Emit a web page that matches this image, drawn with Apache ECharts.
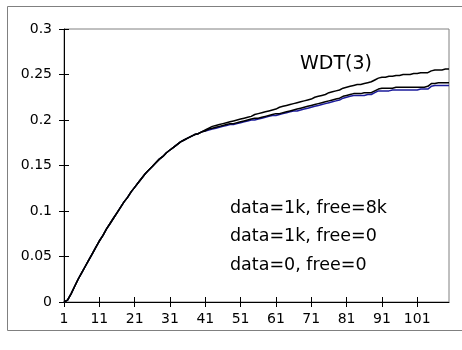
<!DOCTYPE html>
<html>
<head>
<meta charset="utf-8">
<script src="https://cdn.jsdelivr.net/npm/echarts@6/dist/echarts.min.js"></script>
<style>
  html, body { margin: 0; padding: 0; background: #fff; }
  #chart { width: 462px; height: 350px; }
</style>
</head>
<body>
<div id="chart"></div>
<script>
// Step index along the x axis (1 .. 110)
const steps = [];
for (let i = 1; i <= 110; i++) steps.push(String(i));

const yTickLabels = ['0', '0.05', '0.1', '0.15', '0.2', '0.25', '0.3'];

// data=1k, free=8k
const data1kFree8k = [
  0, 0.002, 0.009, 0.017, 0.025, 0.032, 0.039, 0.046, 0.053, 0.060,
  0.067, 0.073, 0.080, 0.086, 0.092, 0.098, 0.104, 0.110, 0.115, 0.121,
  0.126, 0.131, 0.136, 0.141, 0.145, 0.149, 0.153, 0.157, 0.160, 0.164,
  0.167, 0.170, 0.173, 0.176, 0.178, 0.180, 0.182, 0.184, 0.185, 0.187,
  0.189, 0.191, 0.193, 0.194, 0.195, 0.196, 0.197, 0.198, 0.199, 0.200,
  0.201, 0.202, 0.203, 0.204, 0.206, 0.207, 0.208, 0.209, 0.210, 0.211,
  0.212, 0.214, 0.215, 0.216, 0.217, 0.218, 0.219, 0.220, 0.221, 0.222,
  0.223, 0.225, 0.226, 0.227, 0.228, 0.230, 0.231, 0.232, 0.233, 0.235,
  0.236, 0.237, 0.238, 0.239, 0.239, 0.240, 0.241, 0.242, 0.244, 0.246,
  0.247, 0.247, 0.248, 0.248, 0.249, 0.249, 0.250, 0.250, 0.250, 0.251,
  0.251, 0.252, 0.252, 0.252, 0.254, 0.255, 0.255, 0.255, 0.256, 0.256
];

// data=1k, free=0
const data1kFree0 = [
  0, 0.002, 0.009, 0.017, 0.025, 0.032, 0.039, 0.046, 0.053, 0.060,
  0.067, 0.073, 0.080, 0.086, 0.092, 0.098, 0.104, 0.110, 0.115, 0.121,
  0.126, 0.131, 0.136, 0.141, 0.145, 0.149, 0.153, 0.157, 0.160, 0.164,
  0.167, 0.170, 0.173, 0.176, 0.178, 0.180, 0.182, 0.184, 0.185, 0.187,
  0.188, 0.190, 0.191, 0.192, 0.193, 0.194, 0.195, 0.196, 0.196, 0.197,
  0.198, 0.199, 0.200, 0.201, 0.202, 0.202, 0.203, 0.204, 0.205, 0.206,
  0.207, 0.207, 0.208, 0.209, 0.210, 0.211, 0.212, 0.213, 0.214, 0.215,
  0.216, 0.217, 0.218, 0.219, 0.220, 0.221, 0.222, 0.223, 0.224, 0.226,
  0.227, 0.228, 0.229, 0.229, 0.229, 0.230, 0.230, 0.230, 0.232, 0.234,
  0.235, 0.235, 0.235, 0.235, 0.236, 0.236, 0.236, 0.236, 0.236, 0.236,
  0.236, 0.236, 0.236, 0.237, 0.240, 0.240, 0.241, 0.241, 0.241, 0.241
];

// data=0, free=0
const data0Free0 = [
  0, 0.002, 0.009, 0.017, 0.025, 0.032, 0.039, 0.046, 0.053, 0.060,
  0.067, 0.073, 0.080, 0.086, 0.092, 0.098, 0.104, 0.110, 0.115, 0.121,
  0.126, 0.131, 0.136, 0.141, 0.145, 0.149, 0.153, 0.157, 0.160, 0.164,
  0.167, 0.170, 0.173, 0.176, 0.178, 0.180, 0.182, 0.184, 0.185, 0.187,
  0.188, 0.189, 0.190, 0.191, 0.192, 0.193, 0.194, 0.195, 0.195, 0.196,
  0.197, 0.198, 0.199, 0.200, 0.200, 0.201, 0.202, 0.203, 0.204, 0.205,
  0.205, 0.206, 0.207, 0.208, 0.209, 0.210, 0.210, 0.211, 0.212, 0.213,
  0.214, 0.215, 0.216, 0.217, 0.218, 0.219, 0.220, 0.221, 0.222, 0.224,
  0.225, 0.226, 0.227, 0.227, 0.227, 0.227, 0.228, 0.228, 0.230, 0.232,
  0.232, 0.232, 0.232, 0.233, 0.233, 0.233, 0.233, 0.233, 0.233, 0.233,
  0.233, 0.234, 0.234, 0.234, 0.237, 0.238, 0.238, 0.238, 0.238, 0.238
];

const FONT = 'DejaVu Sans';
const AXIS_COLOR = '#000';

function lineSeries(name, values, color) {
  return {
    name: name,
    type: 'line',
    data: values,
    xAxisIndex: 0,
    yAxisIndex: 0,
    showSymbol: false,
    smooth: false,
    lineStyle: { color: color, width: 1.5 },
    itemStyle: { color: color },
    animation: false
  };
}

const chart = echarts.init(document.getElementById('chart'), null, { renderer: 'canvas' });

chart.setOption({
  animation: false,
  backgroundColor: '#fff',
  grid: {
    left: 64, right: 13, top: 29, bottom: 48,
    show: true, borderColor: '#808080', borderWidth: 1, backgroundColor: '#fff'
  },
  xAxis: [
    {
      type: 'category',
      data: steps,
      boundaryGap: false,
      axisLine: { show: true, onZero: false, lineStyle: { color: AXIS_COLOR, width: 1 } },
      axisTick: { show: true, interval: 9, length: 5, lineStyle: { color: AXIS_COLOR } },
      axisLabel: { interval: 9, margin: 10, color: '#000', fontFamily: FONT, fontSize: 14 },
      splitLine: { show: false }
    },
    {
      // inner half of the crossing tick marks
      type: 'category',
      data: steps,
      boundaryGap: false,
      position: 'bottom',
      axisLine: { show: false },
      axisTick: { show: true, inside: true, interval: 9, length: 5, lineStyle: { color: AXIS_COLOR } },
      axisLabel: { show: false },
      splitLine: { show: false }
    }
  ],
  yAxis: [
    {
      type: 'value',
      min: 0, max: 0.3, interval: 0.05,
      axisLine: { show: true, lineStyle: { color: AXIS_COLOR, width: 1 } },
      axisTick: { show: true, length: 5, lineStyle: { color: AXIS_COLOR } },
      axisLabel: {
        margin: 12, color: '#000', fontFamily: FONT, fontSize: 14,
        formatter: function (v) { return yTickLabels[Math.round(v / 0.05)]; }
      },
      splitLine: { show: false }
    },
    {
      type: 'value',
      position: 'left',
      min: 0, max: 0.3, interval: 0.05,
      axisLine: { show: false },
      axisTick: { show: true, inside: true, length: 5, lineStyle: { color: AXIS_COLOR } },
      axisLabel: { show: false },
      splitLine: { show: false }
    }
  ],
  series: [
    lineSeries('data=0, free=0', data0Free0, '#1c1c9c'),
    lineSeries('data=1k, free=0', data1kFree0, '#000'),
    lineSeries('data=1k, free=8k', data1kFree8k, '#000')
  ],
  graphic: [
    {
      type: 'rect',
      silent: true,
      z: -1,
      shape: { x: 7.5, y: 6.5, width: 470, height: 324 },
      style: { fill: null, stroke: '#808080', lineWidth: 1 }
    },
    {
      type: 'text',
      style: { x: 300, y: 64, text: 'WDT(3)', font: '19px "DejaVu Sans"', fill: '#000', textVerticalAlign: 'middle' }
    },
    {
      type: 'text',
      style: { x: 230, y: 208, text: 'data=1k, free=8k', font: '17.5px "DejaVu Sans"', fill: '#000', textVerticalAlign: 'middle' }
    },
    {
      type: 'text',
      style: { x: 230, y: 236.5, text: 'data=1k, free=0', font: '17.5px "DejaVu Sans"', fill: '#000', textVerticalAlign: 'middle' }
    },
    {
      type: 'text',
      style: { x: 230, y: 265, text: 'data=0, free=0', font: '17.5px "DejaVu Sans"', fill: '#000', textVerticalAlign: 'middle' }
    }
  ]
});
</script>
</body>
</html>
